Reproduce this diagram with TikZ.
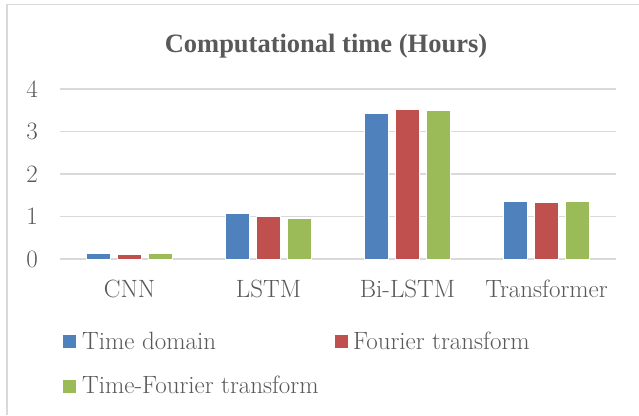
\documentclass[tikz,border=0pt]{standalone}
\usepackage{fontspec}
\newfontfamily\titlefont{Liberation Serif}
\definecolor{tdblue}{HTML}{4F81BD}
\definecolor{ftred}{HTML}{C0504D}
\definecolor{tfgreen}{HTML}{9BBB59}
\definecolor{txtgray}{HTML}{595959}
\definecolor{gridgray}{HTML}{D9D9D9}
\begin{document}
\begin{tikzpicture}[x=1pt,y=-1pt,
				gridline/.style={gridgray,line width=1.5pt},
				bar/.style={draw=white,line width=0.5pt},
				lbl/.style={text=txtgray,font=\fontsize{25}{27}\selectfont,inner sep=0pt},
				key/.style={minimum size=13pt,inner sep=0pt}]
				\useasboundingbox[fill=white] (0,0) rectangle (639,415);
				% frame (only top and left edges show)
				\draw[gridline] (7,415) -- (7,4.5) -- (639,4.5);
				\node (title)[text=txtgray,anchor=base,inner sep=0pt,
					font=\titlefont\bfseries\fontsize{26.5}{30}\selectfont] at (326,52) {Computational time (Hours)};
				% grid and y labels
				\foreach \Y in {0,...,4}
				{\draw[gridline] (60,{259-42.5*\Y}) -- (616,{259-42.5*\Y});
					\node (y\Y)[lbl,anchor=east] at (38,{259-42.5*\Y}) {\Y};}
				% bars
				\foreach \N/\A/\B/\C [count=\I from 0] in {CNN/0.13/0.12/0.14,LSTM/1.07/1.00/0.96,Bi-LSTM/3.44/3.53/3.51,Transformer/1.36/1.33/1.35}
				{\pgfmathsetmacro\cx{129.5+139*\I}
					\filldraw[bar,fill=tdblue] ({\cx-43},259) rectangle ({\cx-19},{259-42.5*\A});
					\filldraw[bar,fill=ftred] ({\cx-12},259) rectangle ({\cx+12},{259-42.5*\B});
					\filldraw[bar,fill=tfgreen] ({\cx+19},259) rectangle ({\cx+43},{259-42.5*\C});
					\node (cat\I)[lbl,anchor=base] at (\cx,297) {\N};}
				% legend
				\node (k1)[key,fill=tdblue] at (69.5,341.5) {};
				\node (k1t)[lbl,anchor=base west] at (82,349) {Time domain};
				\node (k2)[key,fill=ftred] at (341.5,341.5) {};
				\node (k2t)[lbl,anchor=base west] at (353,349) {Fourier transform};
				\node (k3)[key,fill=tfgreen] at (69.5,386.5) {};
				\node (k3t)[lbl,anchor=base west] at (82,393) {Time-Fourier transform};
			\end{tikzpicture}
\end{document}
